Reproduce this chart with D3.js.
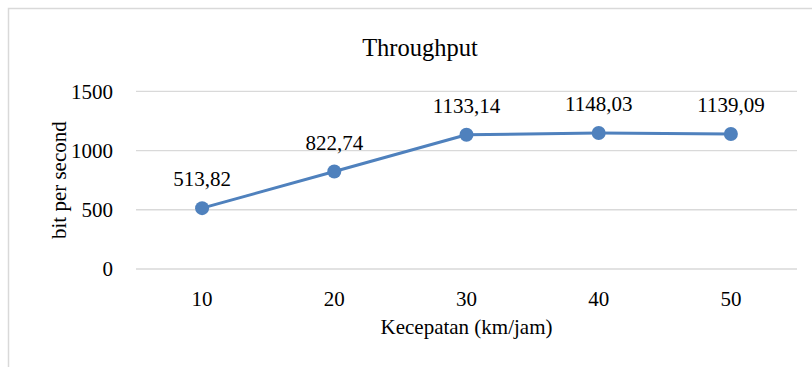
<!DOCTYPE html>
<html>
<head>
<meta charset="utf-8">
<script src="https://cdn.jsdelivr.net/npm/d3@7"></script>
<style>
  html, body { margin: 0; padding: 0; background: #fff; }
  svg { display: block; }
</style>
</head>
<body>
<svg id="chart" width="812" height="367"></svg>
<script>
// Throughput per speed
const speeds = ["10", "20", "30", "40", "50"];
const throughput = [513.82, 822.74, 1133.14, 1148.03, 1139.09];
const yTicks = [0, 500, 1000, 1500];
const chartTitle = "Throughput";
const xTitle = "Kecepatan (km/jam)";
const yTitle = "bit per second";

const FONT = "'Liberation Serif', 'Times New Roman', 'DejaVu Serif', serif";
const W = 812, H = 367;
const plot = { left: 136, right: 797, top: 91.3, bottom: 269 };
const svg = d3.select("#chart").attr("font-family", FONT);

// chart frame
svg.append("rect")
  .attr("x", 8.5).attr("y", 8.5)
  .attr("width", W + 20).attr("height", H + 20)
  .attr("fill", "#fff")
  .attr("stroke", "#d9d9d9").attr("stroke-width", 1.5);

const x = d3.scaleBand().domain(speeds).range([plot.left, plot.right]);
const y = d3.scaleLinear().domain([0, 1500]).range([plot.bottom, plot.top]);

// horizontal gridlines
svg.append("g").selectAll("line").data(yTicks).join("line")
  .attr("x1", plot.left).attr("x2", plot.right)
  .attr("y1", d => y(d)).attr("y2", d => y(d))
  .attr("stroke", "#d9d9d9").attr("stroke-width", 1.3);

// y axis labels
const yAxis = svg.append("g")
  .attr("transform", `translate(${plot.left},0)`)
  .call(d3.axisLeft(y).tickValues(yTicks).tickSize(0).tickPadding(23).tickFormat(d3.format("d")));
yAxis.attr("font-family", FONT).attr("font-size", 21);
yAxis.select(".domain").remove();
yAxis.selectAll("text").attr("dy", "0.33em").attr("fill", "#000");

// x axis labels
const xAxis = svg.append("g")
  .attr("transform", `translate(0,${plot.bottom})`)
  .call(d3.axisBottom(x).tickSize(0).tickPadding(0));
xAxis.attr("font-family", FONT).attr("font-size", 21);
xAxis.select(".domain").remove();
xAxis.selectAll("text").attr("fill", "#000").attr("y", 37).attr("dy", null);

// title
svg.append("text")
  .attr("x", 420).attr("y", 56)
  .attr("text-anchor", "middle")
  .attr("font-size", 24.5)
  .text(chartTitle);

// axis titles
svg.append("text")
  .attr("x", (plot.left + plot.right) / 2).attr("y", 334)
  .attr("text-anchor", "middle")
  .attr("font-size", 21)
  .text(xTitle);

svg.append("text")
  .attr("transform", `translate(66,${(plot.top + plot.bottom) / 2}) rotate(-90)`)
  .attr("text-anchor", "middle")
  .attr("font-size", 21)
  .text(yTitle);

// series
const pts = speeds.map((s, i) => ({ s, v: throughput[i] }));
const cx = d => x(d.s) + x.bandwidth() / 2;

svg.append("path")
  .datum(pts)
  .attr("fill", "none")
  .attr("stroke", "#4f81bd")
  .attr("stroke-width", 3)
  .attr("stroke-linejoin", "round")
  .attr("d", d3.line().x(cx).y(d => y(d.v)));

svg.append("g").selectAll("circle").data(pts).join("circle")
  .attr("cx", cx).attr("cy", d => y(d.v))
  .attr("r", 7)
  .attr("fill", "#4f81bd");

// data labels
const fmt = v => v.toFixed(2).replace(".", ",");
svg.append("g").selectAll("text").data(pts).join("text")
  .attr("x", cx).attr("y", d => y(d.v) - 22)
  .attr("text-anchor", "middle")
  .attr("font-size", 21)
  .text(d => fmt(d.v));
</script>
</body>
</html>
